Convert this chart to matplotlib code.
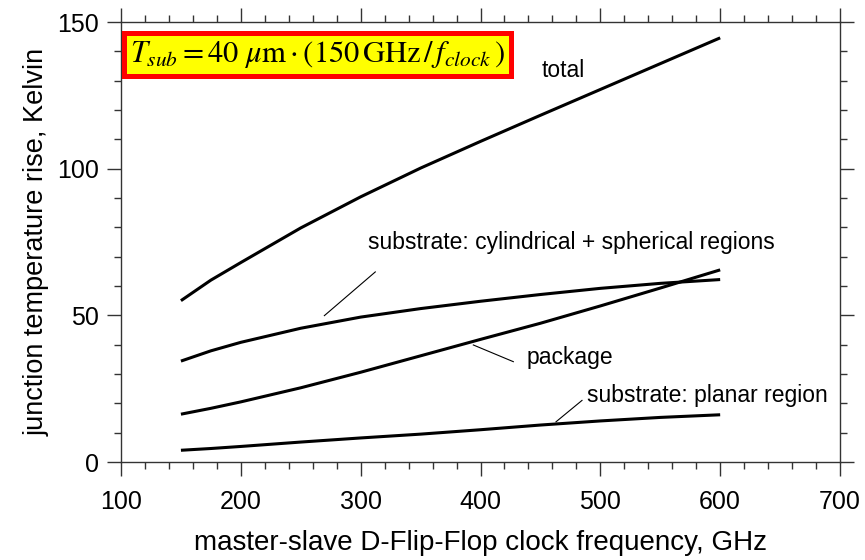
import matplotlib
matplotlib.use('Agg')
import matplotlib.pyplot as plt
from matplotlib.ticker import MultipleLocator

# clock frequency, GHz
freq = [150, 175, 200, 250, 300, 350, 400, 450, 500, 550, 600]

# junction temperature rise contributions, Kelvin
total = [55.0, 62.0, 68.0, 79.8, 90.4, 100.2, 109.3, 118.2, 127.0, 135.8, 144.6]
cyl_sph = [34.4, 37.9, 40.8, 45.6, 49.4, 52.3, 54.8, 57.1, 59.2, 60.9, 62.2]
package = [16.3, 18.3, 20.5, 25.3, 30.6, 36.2, 41.8, 47.3, 53.2, 59.3, 65.5]
planar = [4.0, 4.6, 5.3, 6.8, 8.2, 9.5, 11.0, 12.6, 14.0, 15.2, 16.1]

plt.rcParams['font.family'] = ['Liberation Sans', 'DejaVu Sans']
plt.rcParams['mathtext.fontset'] = 'stix'

fig = plt.figure(figsize=(8.65, 5.6), dpi=100)
ax = fig.add_axes([0.1399, 0.175, 0.8312, 0.7857])

lw = 2.2
for series in (total, cyl_sph, package, planar):
    ax.plot(freq, series, color='black', lw=lw, solid_capstyle='butt')

ax.set_xlim(100, 700)
ax.set_ylim(0, 150)
ax.xaxis.set_major_locator(MultipleLocator(100))
ax.xaxis.set_minor_locator(MultipleLocator(20))
ax.yaxis.set_major_locator(MultipleLocator(50))
ax.yaxis.set_minor_locator(MultipleLocator(10))

ax.tick_params(which='both', direction='out', top=True, right=True,
               width=1, color='#333333')
ax.tick_params(which='major', length=10, labelsize=18)
ax.tick_params(axis='x', which='major', pad=10)
ax.tick_params(axis='y', which='major', pad=6)
ax.tick_params(which='minor', length=5)
for sp in ax.spines.values():
    sp.set_linewidth(1)
    sp.set_color('#333333')

ax.set_xlabel('master-slave D-Flip-Flop clock frequency, GHz', fontsize=20, labelpad=12)
ax.set_ylabel('junction temperature rise, Kelvin', fontsize=19.5, labelpad=5)

# curve labels with leader lines
txt = 16.5
ax.text(469, 133.3, 'total', fontsize=txt, ha='center', va='center')
ax.text(306, 74.7, 'substrate: cylindrical + spherical regions', fontsize=txt,
        ha='left', va='center')
ax.plot([269.7, 312.2], [49.9, 64.8], color='black', lw=0.8)
ax.text(438.6, 35.5, 'package', fontsize=txt, ha='left', va='center')
ax.plot([394.0, 427.4], [39.9, 34.2], color='black', lw=0.8)
ax.text(488.9, 22.8, 'substrate: planar region', fontsize=txt, ha='left', va='center')
ax.plot([463.0, 484.7], [13.7, 21.0], color='black', lw=0.8)

# substrate thickness scaling rule
ax.text(0.012, 0.962,
        r'$T_{sub} = 40\ \mu\mathrm{m}\cdot(150\,\mathrm{GHz}\,/\,f_{clock}\,)$',
        transform=ax.transAxes, fontsize=22, ha='left', va='top',
        bbox=dict(boxstyle='square,pad=0.2', fc='#ffff00', ec='#ff0000', lw=3.6))

fig.savefig('out.png', dpi=100)
